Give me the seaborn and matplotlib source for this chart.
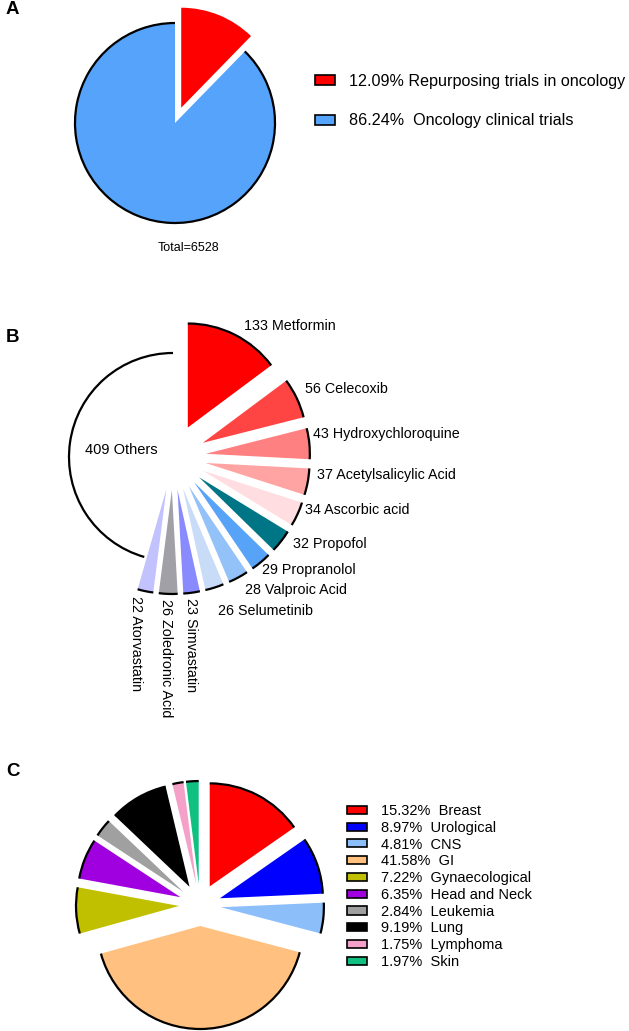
import matplotlib
matplotlib.use("Agg")
import numpy as np
import matplotlib.pyplot as plt
from matplotlib.patches import Arc, Patch
import seaborn as sns

sns.set_theme(style="white")
plt.rcParams['font.family'] = ['Liberation Sans', 'DejaVu Sans']
plt.rcParams['text.color'] = 'black'

# ---- data ----
trial_groups = ["Repurposing trials in oncology", "Oncology clinical trials"]
trial_pct = [12.09, 86.24]
trial_total = 6528

drug_names = ["Metformin", "Celecoxib", "Hydroxychloroquine", "Acetylsalicylic Acid",
              "Ascorbic acid", "Propofol", "Propranolol", "Valproic Acid", "Selumetinib",
              "Simvastatin", "Zoledronic Acid", "Atorvastatin", "Others"]
drug_counts = [133, 56, 43, 37, 34, 32, 29, 28, 26, 23, 26, 22, 409]

cancer_types = ["Breast", "Urological", "CNS", "GI", "Gynaecological", "Head and Neck",
                "Leukemia", "Lung", "Lymphoma", "Skin"]
cancer_pct = [15.32, 8.97, 4.81, 41.58, 7.22, 6.35, 2.84, 9.19, 1.75, 1.97]

# ---- styles ----
trial_colors = ["#ff0000", "#56a3fc"]
drug_colors = ["#ff0000", "#ff4444", "#ff8080", "#ffa3a3", "#ffdde0", "#007585",
               "#56a3f8", "#92c2f8", "#c8dcf8", "#8a8aff", "#a0a0a6", "#c2c2ff", "#ffffff"]
cancer_colors = ["#ff0000", "#0000ff", "#8cbefa", "#ffc080", "#c0c000", "#a000e0",
                 "#a0a0a0", "#000000", "#f5a0c8", "#10c080"]

W, H = 629, 1031


def img(x, y):
    # image pixel (y down) -> data coords (y up)
    return x, H - y


fig = plt.figure(figsize=(W / 100, H / 100), dpi=100)
ax = fig.add_axes([0, 0, 1, 1])


def outline(wedges, skip=()):
    for i, w in enumerate(wedges):
        if i in skip:
            continue
        ax.add_patch(Arc(w.center, 2 * w.r, 2 * w.r, theta1=w.theta1, theta2=w.theta2,
                         color="black", lw=1.6, zorder=3))


# ---- panel A ----
wa, _ = ax.pie(trial_pct, colors=trial_colors, startangle=90, counterclock=False,
               explode=[16.5, 0], center=img(175, 123), radius=100,
               wedgeprops=dict(linewidth=0))
outline(wa, skip=(0,))
ax.text(*img(189, 248), f"Total={trial_total}", fontsize=9, ha="center", va="center")
seps = [" ", "  "]
leg_a = ax.legend([Patch(facecolor=c, edgecolor="black", lw=1.2) for c in trial_colors],
                  [f"{p:.2f}%{s}{g}" for p, s, g in zip(trial_pct, seps, trial_groups)],
                  loc="upper left", bbox_to_anchor=img(315, 74), bbox_transform=ax.transData,
                  frameon=False, fontsize=11.6, handlelength=1.25, handleheight=0.55,
                  handletextpad=0.85, labelspacing=1.52, borderpad=0, borderaxespad=0)
ax.add_artist(leg_a)

# ---- panel B ----
drug_explode = [33] * (len(drug_counts) - 1) + [0]
wb, _ = ax.pie(drug_counts, colors=drug_colors, startangle=90, counterclock=False,
               explode=drug_explode, center=img(173, 457), radius=104,
               wedgeprops=dict(linewidth=0))
outline(wb)
nudges = [(7, -4), (4, -7), (-2, -9), (4, -8), (3, -6), (8, 0), (-2, 4), (4, 8), (2, 18),
          (-1, 0), (-2, 0), (-8, 0)]
for i, w in enumerate(wb):
    th = np.deg2rad((w.theta1 + w.theta2) / 2)
    cx, cy = w.center
    if drug_names[i] == "Others":
        ax.text(cx + 0.5 * w.r * np.cos(th), cy + 0.5 * w.r * np.sin(th),
                f"{drug_counts[i]} {drug_names[i]}", fontsize=10.5, ha="center", va="center")
        continue
    dx, dy = nudges[i]
    tx = cx + 1.05 * w.r * np.cos(th) + dx
    ty = cy + 1.05 * w.r * np.sin(th) - dy
    if i >= 9:
        ax.text(tx, ty, f"{drug_counts[i]} {drug_names[i]}", fontsize=10.3,
                rotation=-90, ha="center", va="top")
    else:
        ax.text(tx, ty, f"{drug_counts[i]} {drug_names[i]}", fontsize=10.3,
                ha="left", va="center")

# ---- panel C ----
wc, _ = ax.pie(cancer_pct, colors=cancer_colors, startangle=90, counterclock=False,
               explode=[21] * len(cancer_pct), center=img(200, 905), radius=103,
               wedgeprops=dict(linewidth=0))
outline(wc)
leg_c = ax.legend([Patch(facecolor=c, edgecolor="black", lw=1.2) for c in cancer_colors],
                  [f"{p:.2f}%  {t}" for p, t in zip(cancer_pct, cancer_types)],
                  loc="upper left", bbox_to_anchor=img(347, 804), bbox_transform=ax.transData,
                  frameon=False, fontsize=10.5, handlelength=1.4, handleheight=0.48,
                  handletextpad=0.95, labelspacing=0.19, borderpad=0, borderaxespad=0)

# panel letters
for letter, y in zip("ABC", [10, 337, 772]):
    ax.text(*img(6, y), letter, fontsize=13.5, fontweight="bold", ha="left", va="center")

ax.set_aspect("auto")
ax.set_xlim(0, W)
ax.set_ylim(0, H)
ax.axis("off")

fig.savefig("out.png", dpi=100, facecolor="white")
